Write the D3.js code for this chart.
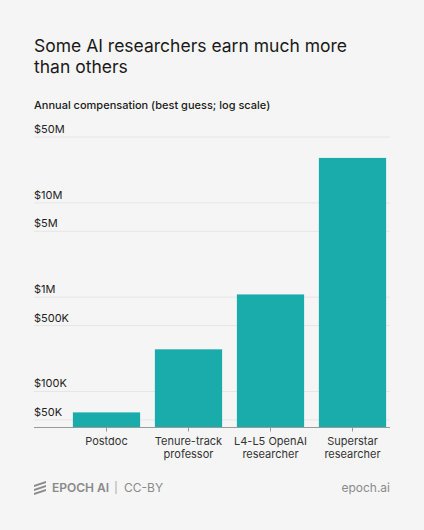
<!DOCTYPE html>
<meta charset="utf-8">
<script src="https://d3js.org/d3.v7.min.js"></script>
<style>
  body { margin: 0; background: #f5f5f5; font-family: 'Inter', 'Noto Sans', sans-serif; }
</style>
<div id="chart"></div>
<script>
// data
var categories = [["Postdoc"], ["Tenure-track", "professor"], ["L4-L5 OpenAI", "researcher"], ["Superstar", "researcher"]];
var values = [60000, 280000, 1070000, 30000000];
var tickValues = [50000, 100000, 500000, 1000000, 5000000, 10000000, 50000000];
var tickLabels = ["$50K", "$100K", "$500K", "$1M", "$5M", "$10M", "$50M"];

var width = 424, height = 530;
var plotLeft = 34, plotRight = 390, plotTop = 137, plotBottom = 427;

var svg = d3.select("#chart").append("svg")
  .attr("width", width)
  .attr("height", height);

svg.append("rect").attr("width", width).attr("height", height).attr("fill", "#f5f5f5");

// title + subtitle
svg.append("text")
  .attr("x", plotLeft).attr("y", 52)
  .style("font-size", "17.5px").style("fill", "#1a1a1a")
  .text("Some AI researchers earn much more");
svg.append("text")
  .attr("x", plotLeft).attr("y", 73)
  .style("font-size", "17.5px").style("fill", "#1a1a1a")
  .text("than others");
svg.append("text")
  .attr("x", plotLeft).attr("y", 109)
  .style("font-size", "11px").style("font-weight", 500).style("fill", "#1a1a1a")
  .text("Annual compensation (best guess; log scale)");

// scales
var x = d3.scaleBand()
  .domain(categories.map(function(d) { return d.join(" "); }))
  .range([65.5, 393.5])
  .paddingInner(0.18)
  .paddingOuter(0.09);

var y = d3.scaleLog()
  .domain([42000, 50000000])
  .range([plotBottom, plotTop]);

// gridlines + labels
var grid = svg.append("g");
tickValues.forEach(function(t, i) {
  grid.append("line")
    .attr("x1", plotLeft).attr("x2", plotRight)
    .attr("y1", y(t)).attr("y2", y(t))
    .attr("stroke", "#e6e6e6").attr("stroke-width", 1);
  grid.append("text")
    .attr("x", plotLeft).attr("y", y(t) - 4)
    .style("font-size", "11px").style("fill", "#222")
    .text(tickLabels[i]);
});

// bars
svg.selectAll(".bar")
  .data(values)
  .enter()
  .append("rect")
    .attr("class", "bar")
    .attr("x", function(d, i) { return x(categories[i].join(" ")); })
    .attr("width", x.bandwidth())
    .attr("y", function(d) { return y(d); })
    .attr("height", function(d) { return plotBottom - y(d); })
    .attr("fill", "#1aabab");

// x axis
svg.append("line")
  .attr("x1", plotLeft).attr("x2", plotRight)
  .attr("y1", plotBottom + 0.5).attr("y2", plotBottom + 0.5)
  .attr("stroke", "#999").attr("stroke-width", 1);

var xAxis = svg.append("g")
  .attr("transform", "translate(0," + (plotBottom + 0.5) + ")")
  .call(d3.axisBottom(x).tickSize(4).tickFormat(""));
xAxis.select(".domain").remove();
xAxis.selectAll(".tick line").attr("stroke", "#999");

categories.forEach(function(c) {
  var cx = x(c.join(" ")) + x.bandwidth() / 2;
  c.forEach(function(line, j) {
    svg.append("text")
      .attr("x", cx)
      .attr("y", 445 + j * 13)
      .attr("text-anchor", "middle")
      .style("font-size", "11px").style("fill", "#333")
      .text(line);
  });
});

// footer
var logo = svg.append("g").attr("transform", "translate(34,482)").attr("fill", "#8a8a8a");
[0, 4, 8].forEach(function(o) {
  logo.append("path").attr("d", "M0," + (o + 3) + " L12," + (o - 1) + " L12," + (o + 1) + " L0," + (o + 5) + " Z");
});
svg.append("text")
  .attr("x", 52).attr("y", 492)
  .style("font-size", "12px").style("font-weight", 600).style("fill", "#8a8a8a")
  .text("EPOCH AI");
svg.append("line")
  .attr("x1", 116).attr("x2", 116).attr("y1", 481).attr("y2", 494)
  .attr("stroke", "#aaa");
svg.append("text")
  .attr("x", 124).attr("y", 492)
  .style("font-size", "12px").style("fill", "#8a8a8a")
  .text("CC-BY");
svg.append("text")
  .attr("x", plotRight).attr("y", 492)
  .attr("text-anchor", "end")
  .style("font-size", "12px").style("fill", "#8a8a8a")
  .text("epoch.ai");
</script>
